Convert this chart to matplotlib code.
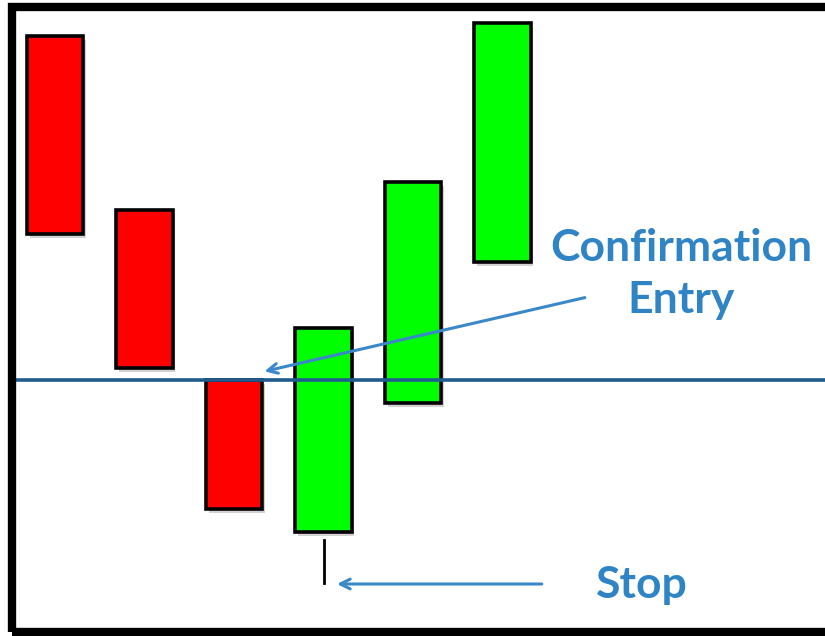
import matplotlib.pyplot as plt
import matplotlib.patheffects as pe
from matplotlib.patches import Rectangle

# candle data (index, open, close) in price units
candle_idx = [0, 1, 2, 3, 4, 5]
opens = [60.0, 42.6, 25.6, 10.4, 23.3, 37.4]
closes = [40.2, 26.8, 12.7, 30.8, 45.4, 61.3]
# stop wick below candle 4 (drawn with a gap from the body)
stop_idx = 3
stop_wick_top = 9.6
stop_low = 5.3
entry_level = 25.6

label_confirm = "Confirmation"
label_entry = "Entry"
label_stop = "Stop"

text_blue = "#2F84C5"
arrow_blue = "#3A88C9"
line_blue = "#1F5B8D"

fig = plt.figure(figsize=(8.25, 6.36), dpi=100)
ax = fig.add_axes([0, 0, 1, 1])
ax.set_xlim(-55.0 / 89.5, (825 - 55.0) / 89.5)
ax.set_ylim(0, 63.6)
ax.axis("off")

shadow = [pe.SimplePatchShadow(offset=(2, -3), shadow_rgbFace="0.5", alpha=0.35), pe.Normal()]

w = 0.63
for i, o, c in zip(candle_idx, opens, closes):
    col = "#00FF00" if c > o else "#FF0000"
    lo, hi = min(o, c), max(o, c)
    r = Rectangle((i - w / 2, lo), w, hi - lo, facecolor=col, edgecolor="black",
                  linewidth=2.6, zorder=3)
    r.set_path_effects(shadow)
    ax.add_patch(r)

ax.plot([stop_idx, stop_idx], [stop_low, stop_wick_top], color="black", lw=2, zorder=3)

# entry level line
ax.axhline(entry_level, xmin=16 / 825, xmax=1, color=line_blue, lw=2.6, zorder=4)

# frame
frame = Rectangle((12 / 825, 4 / 636), 2, 1 - 11 / 636, transform=ax.transAxes,
                  fill=False, edgecolor="black", linewidth=6, clip_on=False, zorder=5)
ax.add_patch(frame)

# annotations
ax.annotate("", xy=(2.31, 26.4), xytext=(5.95, 33.9),
            arrowprops=dict(arrowstyle="->,head_length=0.7,head_width=0.35",
                            color=arrow_blue, lw=2.2), zorder=6)
ax.text(7.0, 37.5, label_confirm, ha="center", va="baseline", color=text_blue,
        fontsize=32, fontweight="bold", family="Lato")
ax.text(7.0, 32.3, label_entry, ha="center", va="baseline", color=text_blue,
        fontsize=32, fontweight="bold", family="Lato")

ax.annotate("", xy=(3.12, 5.2), xytext=(5.47, 5.2),
            arrowprops=dict(arrowstyle="->,head_length=0.7,head_width=0.35",
                            color=arrow_blue, lw=2.2), zorder=6)
ax.text(6.56, 3.8, label_stop, ha="center", va="baseline", color=text_blue,
        fontsize=32, fontweight="bold", family="Lato")

fig.savefig("out.png", dpi=100)
